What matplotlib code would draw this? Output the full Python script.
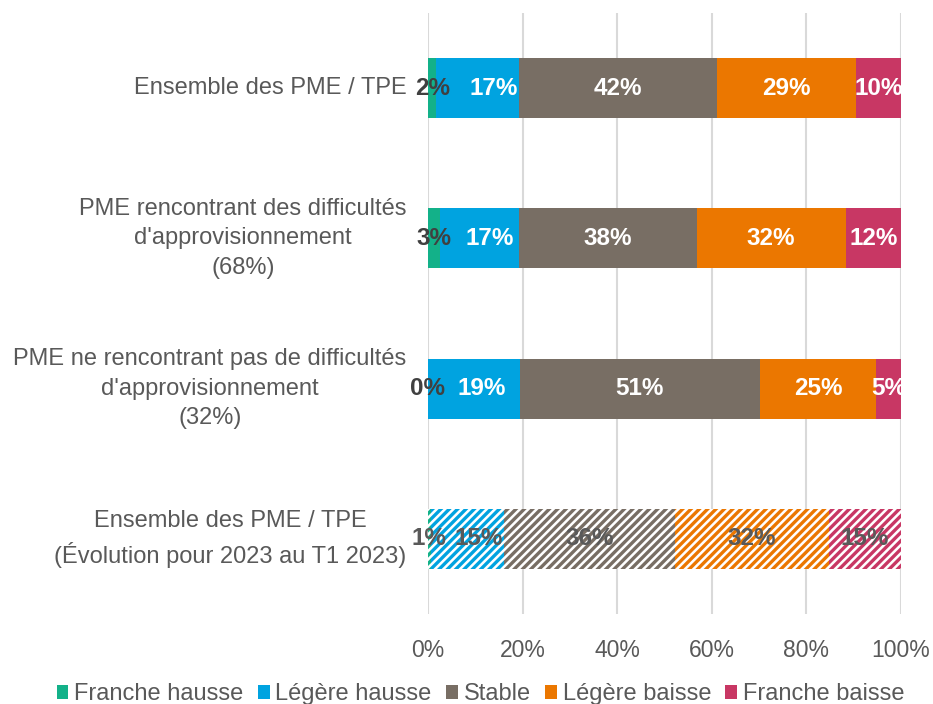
import matplotlib.pyplot as plt
import numpy as np
from matplotlib.patches import Patch

plt.rcParams['font.family'] = ['Liberation Sans', 'DejaVu Sans']
plt.rcParams['hatch.linewidth'] = 2.4

categories = [
    "Ensemble des PME / TPE",
    "PME rencontrant des difficultés\nd'approvisionnement\n(68%)",
    "PME ne rencontrant pas de difficultés\nd'approvisionnement\n(32%)",
    "Ensemble des PME / TPE\n(Évolution pour 2023 au T1 2023)",
]
series = ["Franche hausse", "Légère hausse", "Stable", "Légère baisse", "Franche baisse"]
colors = ["#13B189", "#00A3E0", "#786E64", "#EB7700", "#C83764"]

# parts per row, and the printed labels
franche_hausse = [1.8, 2.5, 0.0, 0.6]
legere_hausse = [17.4, 16.7, 19.4, 15.4]
stable = [41.9, 37.6, 50.7, 36.2]
legere_baisse = [29.4, 31.5, 24.7, 32.6]
franche_baisse = [9.5, 11.7, 5.2, 15.2]
labels = [
    ["2%", "3%", "0%", "1%"],
    ["17%", "17%", "19%", "15%"],
    ["42%", "38%", "51%", "36%"],
    ["29%", "32%", "25%", "32%"],
    ["10%", "12%", "5%", "15%"],
]
values = [franche_hausse, legere_hausse, stable, legere_baisse, franche_baisse]
# the blue labels sit a little right of their segment centre, as in the source
nudge = [[0, 0, 0, 0], [3.3, 2.3, 1.7, 2.5], [0] * 4, [0] * 4, [0] * 4]

fig = plt.figure(figsize=(9.33, 7.04), dpi=100)
ax = fig.add_axes([0.4587, 0.1278, 0.507, 0.8537])

ypos = np.arange(len(categories))
left = np.zeros(len(categories))
for i, (vals, col) in enumerate(zip(values, colors)):
    vals = np.array(vals)
    for j in range(len(categories)):
        if j == 3:
            ax.barh(ypos[j], vals[j], left=left[j], height=0.4,
                    facecolor="white", edgecolor=col, hatch="////", linewidth=0)
        else:
            ax.barh(ypos[j], vals[j], left=left[j], height=0.4, color=col,
                    linewidth=0)
        if j == 3:
            tc = "#595959"
        elif i == 0:
            tc = "#404040"
        else:
            tc = "white"
        ax.text(left[j] + vals[j] / 2 + nudge[i][j], ypos[j], labels[i][j],
                ha="center", va="center", color=tc, fontsize=17.5,
                fontweight="bold")
    left += vals

ax.set_xlim(0, 100)
ax.set_ylim(3.5, -0.5)
ax.set_xticks(np.arange(0, 101, 20))
ax.set_xticklabels([f"{t}%" for t in range(0, 101, 20)])
ax.set_axisbelow(True)
ax.grid(axis="x", color="#D9D9D9", linewidth=1.5)
ax.tick_params(axis="x", length=0, labelsize=16.5, labelcolor="#595959", pad=18)
ax.set_yticks([])
for s in ax.spines.values():
    s.set_visible(False)

for j, cat in enumerate(categories):
    ax.text(-4.5, ypos[j], cat, ha="right", va="center", multialignment="center",
            fontsize=17, color="#595959", linespacing=1.45,
            transform=ax.transData, clip_on=False)

handles = [Patch(facecolor=c, edgecolor="none") for c in colors]
fig.legend(handles, series, loc="lower center", bbox_to_anchor=(0.515, -0.032),
           ncol=5, frameon=False, fontsize=17, handlelength=0.5, handleheight=0.5,
           handletextpad=0.25, columnspacing=0.6, labelcolor="#595959")

fig.savefig("out.png", dpi=100)
